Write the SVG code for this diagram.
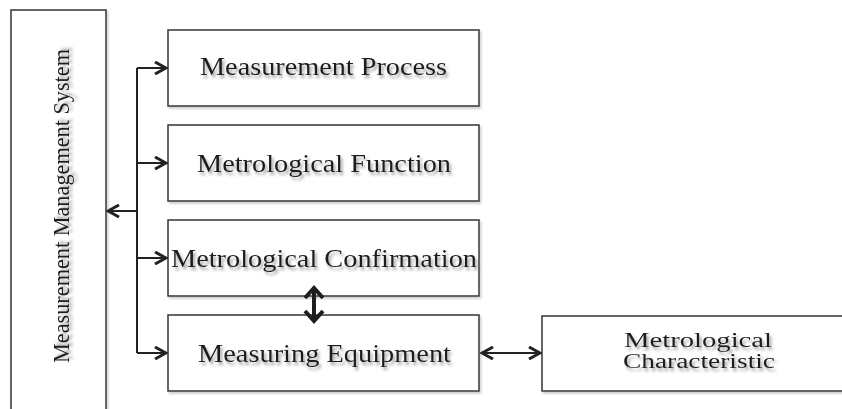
<svg xmlns="http://www.w3.org/2000/svg" width="842" height="409" viewBox="0 0 842 409">
<style>
.box{fill:#fff;stroke:#333;stroke-width:1.5;filter:url(#bs)}
.t{font-family:"Liberation Serif","Times New Roman",serif;fill:#1e1e1e;filter:url(#ts)}
.ln{fill:none;stroke:#222;stroke-width:2}
.thick{fill:none;stroke:#1e1e1e;stroke-width:4}
</style>
<defs>
<filter id="ts" x="-10%" y="-40%" width="120%" height="180%">
<feDropShadow dx="2" dy="3" stdDeviation="1.6" flood-color="#777" flood-opacity="0.7"/>
</filter>
<filter id="bs" x="-5%" y="-5%" width="110%" height="115%">
<feDropShadow dx="1.5" dy="2" stdDeviation="1.2" flood-color="#999" flood-opacity="0.5"/>
</filter>
<marker id="ah" viewBox="0 0 14 14" refX="12" refY="7" markerWidth="14" markerHeight="14" markerUnits="userSpaceOnUse" orient="auto-start-reverse">
<path d="M1,1 L12,7 L1,13" fill="none" stroke="#222" stroke-width="3"/>
</marker>
</defs>

<g id="mms">
<rect class="box" x="11" y="10" width="95" height="420"/>
<text class="t" font-size="24" text-anchor="middle" transform="translate(69 206) rotate(-90)" textLength="314" lengthAdjust="spacingAndGlyphs">Measurement Management System</text>
</g>

<g id="process">
<rect class="box" x="168" y="30" width="311" height="76"/>
<text class="t" x="323.5" y="75" font-size="25" text-anchor="middle" textLength="247" lengthAdjust="spacingAndGlyphs">Measurement Process</text>
</g>

<g id="function">
<rect class="box" x="168" y="125" width="311" height="76"/>
<text class="t" x="324" y="172" font-size="25" text-anchor="middle" textLength="254" lengthAdjust="spacingAndGlyphs">Metrological Function</text>
</g>

<g id="confirmation">
<rect class="box" x="168" y="220" width="311" height="76"/>
<text class="t" x="324" y="267" font-size="25" text-anchor="middle" textLength="306" lengthAdjust="spacingAndGlyphs">Metrological Confirmation</text>
</g>

<g id="equipment">
<rect class="box" x="168" y="315" width="311" height="76"/>
<text class="t" x="324.5" y="362" font-size="25" text-anchor="middle" textLength="253" lengthAdjust="spacingAndGlyphs">Measuring Equipment</text>
</g>

<g id="characteristic">
<rect class="box" x="542" y="316" width="320" height="75"/>
<text class="t" x="698" y="347" font-size="20" text-anchor="middle" textLength="148" lengthAdjust="spacingAndGlyphs">Metrological</text>
<text class="t" x="699" y="368" font-size="20" text-anchor="middle" textLength="152" lengthAdjust="spacingAndGlyphs">Characteristic</text>
</g>

<g id="connectors">
<path class="ln" d="M137,68 V353"/>
<path class="ln" d="M137,211 H108" marker-end="url(#ah)"/>
<path class="ln" d="M137,68 H166" marker-end="url(#ah)"/>
<path class="ln" d="M137,163 H166" marker-end="url(#ah)"/>
<path class="ln" d="M137,258 H166" marker-end="url(#ah)"/>
<path class="ln" d="M137,353 H166" marker-end="url(#ah)"/>
<path class="ln" d="M482,353 H540" marker-start="url(#ah)" marker-end="url(#ah)"/>
<path class="thick" d="M314,290 V319"/>
<path class="thick" d="M305,298 L314,288 L323,298"/>
<path class="thick" d="M305,311 L314,321 L323,311"/>
</g>
</svg>
